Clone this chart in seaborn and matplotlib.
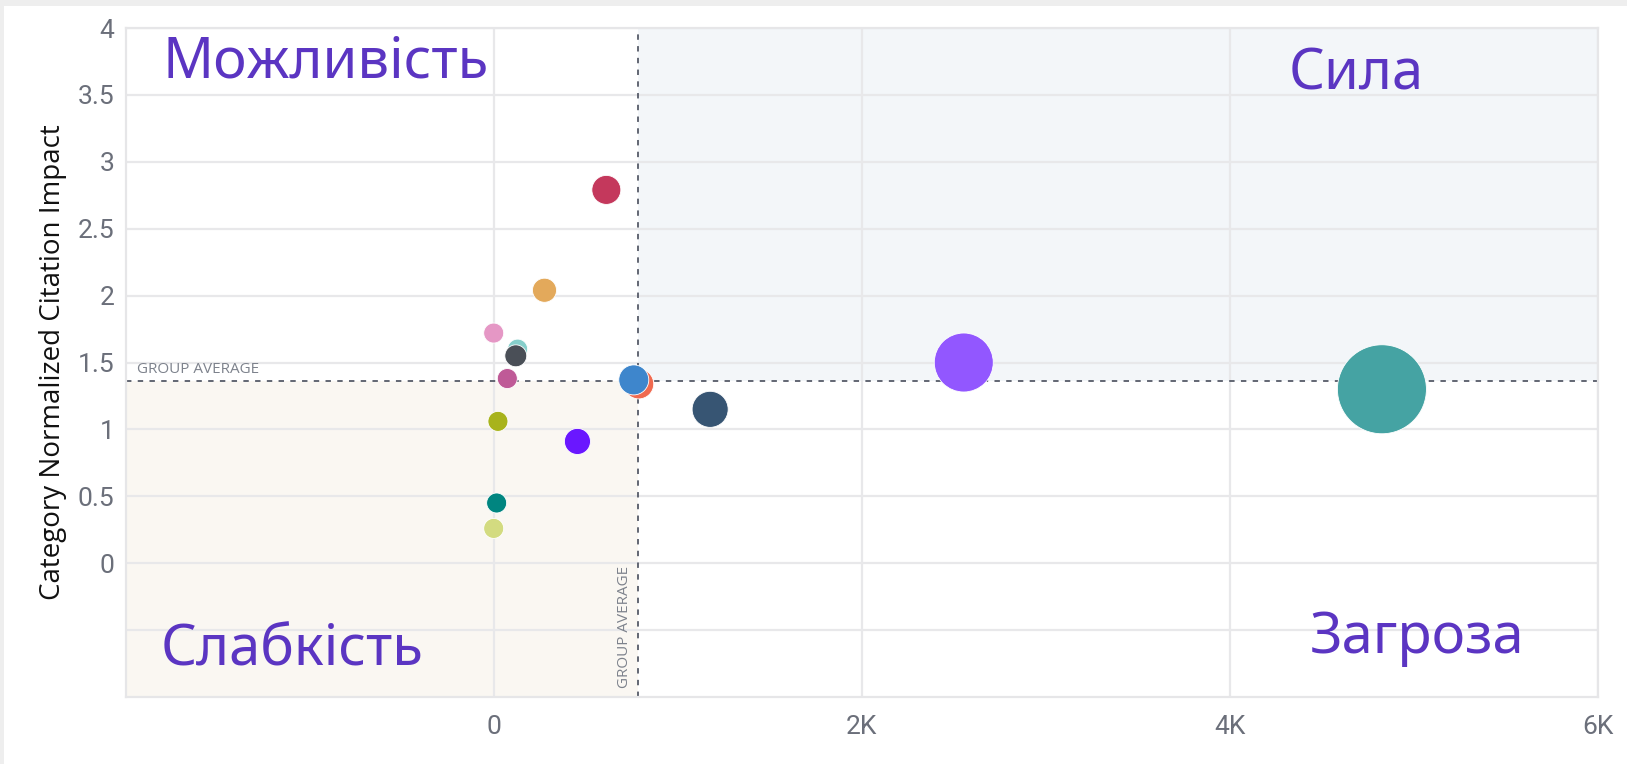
import numpy as np
import pandas as pd
import matplotlib
matplotlib.use("Agg")
import matplotlib.pyplot as plt
from matplotlib.patches import Rectangle
import seaborn as sns

# ---------------- data ----------------
entities = ["E01", "E02", "E03", "E04", "E05", "E06", "E07", "E08",
            "E09", "E10", "E11", "E12", "E13", "E14", "E15"]
documents = [612, 276, 0, 130, 120, 74, 23, 455, 16, 0, 788, 761, 1176, 2554, 4826]
cnci = [2.79, 2.04, 1.72, 1.60, 1.55, 1.38, 1.06, 0.91, 0.45, 0.26, 1.34, 1.37, 1.15, 1.50, 1.30]
times_cited = [840, 580, 400, 400, 480, 400, 400, 680, 400, 400, 900, 900, 1300, 3480, 7920]
colors = ["#C4385C", "#E3A95B", "#E597C5", "#86CFCB", "#4A4F57", "#BF5A97", "#A8B31C",
          "#6A17FF", "#008580", "#D3DB80", "#F06A50", "#3E86CC", "#375573", "#9257FF", "#45A3A3"]
avg_docs = 783
avg_cnci = 1.36
x_ticks = [0, 2000, 4000, 6000]
x_labels = ["0", "2K", "4K", "6K"]
y_ticks = [-0.5, 0, 0.5, 1, 1.5, 2, 2.5, 3, 3.5, 4]
y_labels = ["", "0", "0.5", "1", "1.5", "2", "2.5", "3", "3.5", "4"]
quadrants = ["Можливість", "Сила", "Слабкість", "Загроза"]
avg_label = "GROUP AVERAGE"

df = pd.DataFrame({"entity": entities, "docs": documents, "cnci": cnci, "cited": times_cited})

# ---------------- figure ----------------
sns.set_theme(style="white")
plt.rcParams["font.family"] = ["Roboto", "DejaVu Sans"]
W, H = 1627, 764
fig = plt.figure(figsize=(W / 100, H / 100), dpi=100)
fig.patch.set_facecolor("white")
# card border / shadow
fig.patches.append(Rectangle((0, 1 - 6 / H), 1, 6 / H, transform=fig.transFigure,
                             facecolor="#eeeeee", edgecolor="none", zorder=0))
fig.patches.append(Rectangle((0, 0), 4 / W, 1, transform=fig.transFigure,
                             facecolor="#eeeeee", edgecolor="none", zorder=0))

ax = fig.add_axes([125.6 / W, 1 - 697 / H, (1598 - 125.6) / W, (697 - 28) / H])
xmin, xmax, ymin, ymax = -2000, 6000, -1, 4
ax.set_xlim(xmin, xmax)
ax.set_ylim(ymin, ymax)

# quadrant shading
ax.axvspan(avg_docs, xmax, ymin=(avg_cnci - ymin) / (ymax - ymin), ymax=1,
           facecolor="#F3F6F9", edgecolor="none", zorder=0)
ax.axvspan(xmin, avg_docs, ymin=0, ymax=(avg_cnci - ymin) / (ymax - ymin),
           facecolor="#FAF7F2", edgecolor="none", zorder=0)

# grid
ax.set_xticks(x_ticks)
ax.set_xticklabels(x_labels)
ax.set_yticks(y_ticks)
ax.set_yticklabels(y_labels)
ax.grid(True, color="#e8e8ea", linewidth=1.6, zorder=0.5)
ax.set_axisbelow(True)
for s in ax.spines.values():
    s.set_color("#e6e6e8")
    s.set_linewidth(1.6)
ax.tick_params(axis="both", length=0, labelsize=19, labelcolor="#6b6f7a")
ax.tick_params(axis="x", pad=13)
ax.tick_params(axis="y", pad=8)

# average lines
ax.axhline(avg_cnci, color="#565b68", linestyle=(0, (3, 3.5)), linewidth=1.3, zorder=1)
ax.axvline(avg_docs, color="#565b68", linestyle=(0, (3, 3.5)), linewidth=1.3, zorder=1)

# bubbles
max_area = (89 * 0.72) ** 2
sns.scatterplot(data=df, x="docs", y="cnci", hue="entity", palette=colors,
                size="cited", sizes=(0, max_area), size_norm=(0, max(times_cited)),
                legend=False, edgecolor="white", linewidth=0.6, alpha=1, ax=ax, zorder=3)

ax.set_xlabel("")
ax.set_ylabel("Category Normalized Citation Impact", fontsize=20, color="#111111",
              family=["Open Sans", "DejaVu Sans"], labelpad=8)

# group average labels
fig.text(137 / W, 1 - 373 / H, avg_label, fontsize=11, color="#7d828c",
         ha="left", va="baseline", family=["Open Sans", "DejaVu Sans"])
fig.text(632 / W, 1 - 688 / H, avg_label, fontsize=11, color="#7d828c",
         rotation=90, ha="right", va="bottom", family=["Open Sans", "DejaVu Sans"])

# quadrant labels
qcol = "#5B35C2"
qfont = ["Noto Sans", "DejaVu Sans"]
qpos = [(162, 78, "left"), (1356, 90, "center"), (161, 665, "left"), (1417, 653, "center")]
for txt, (px, py, ha) in zip(quadrants, qpos):
    fig.text(px / W, 1 - py / H, txt, fontsize=40.5, color=qcol, ha=ha, va="baseline",
             family=qfont)

fig.savefig("out.png", dpi=100)
